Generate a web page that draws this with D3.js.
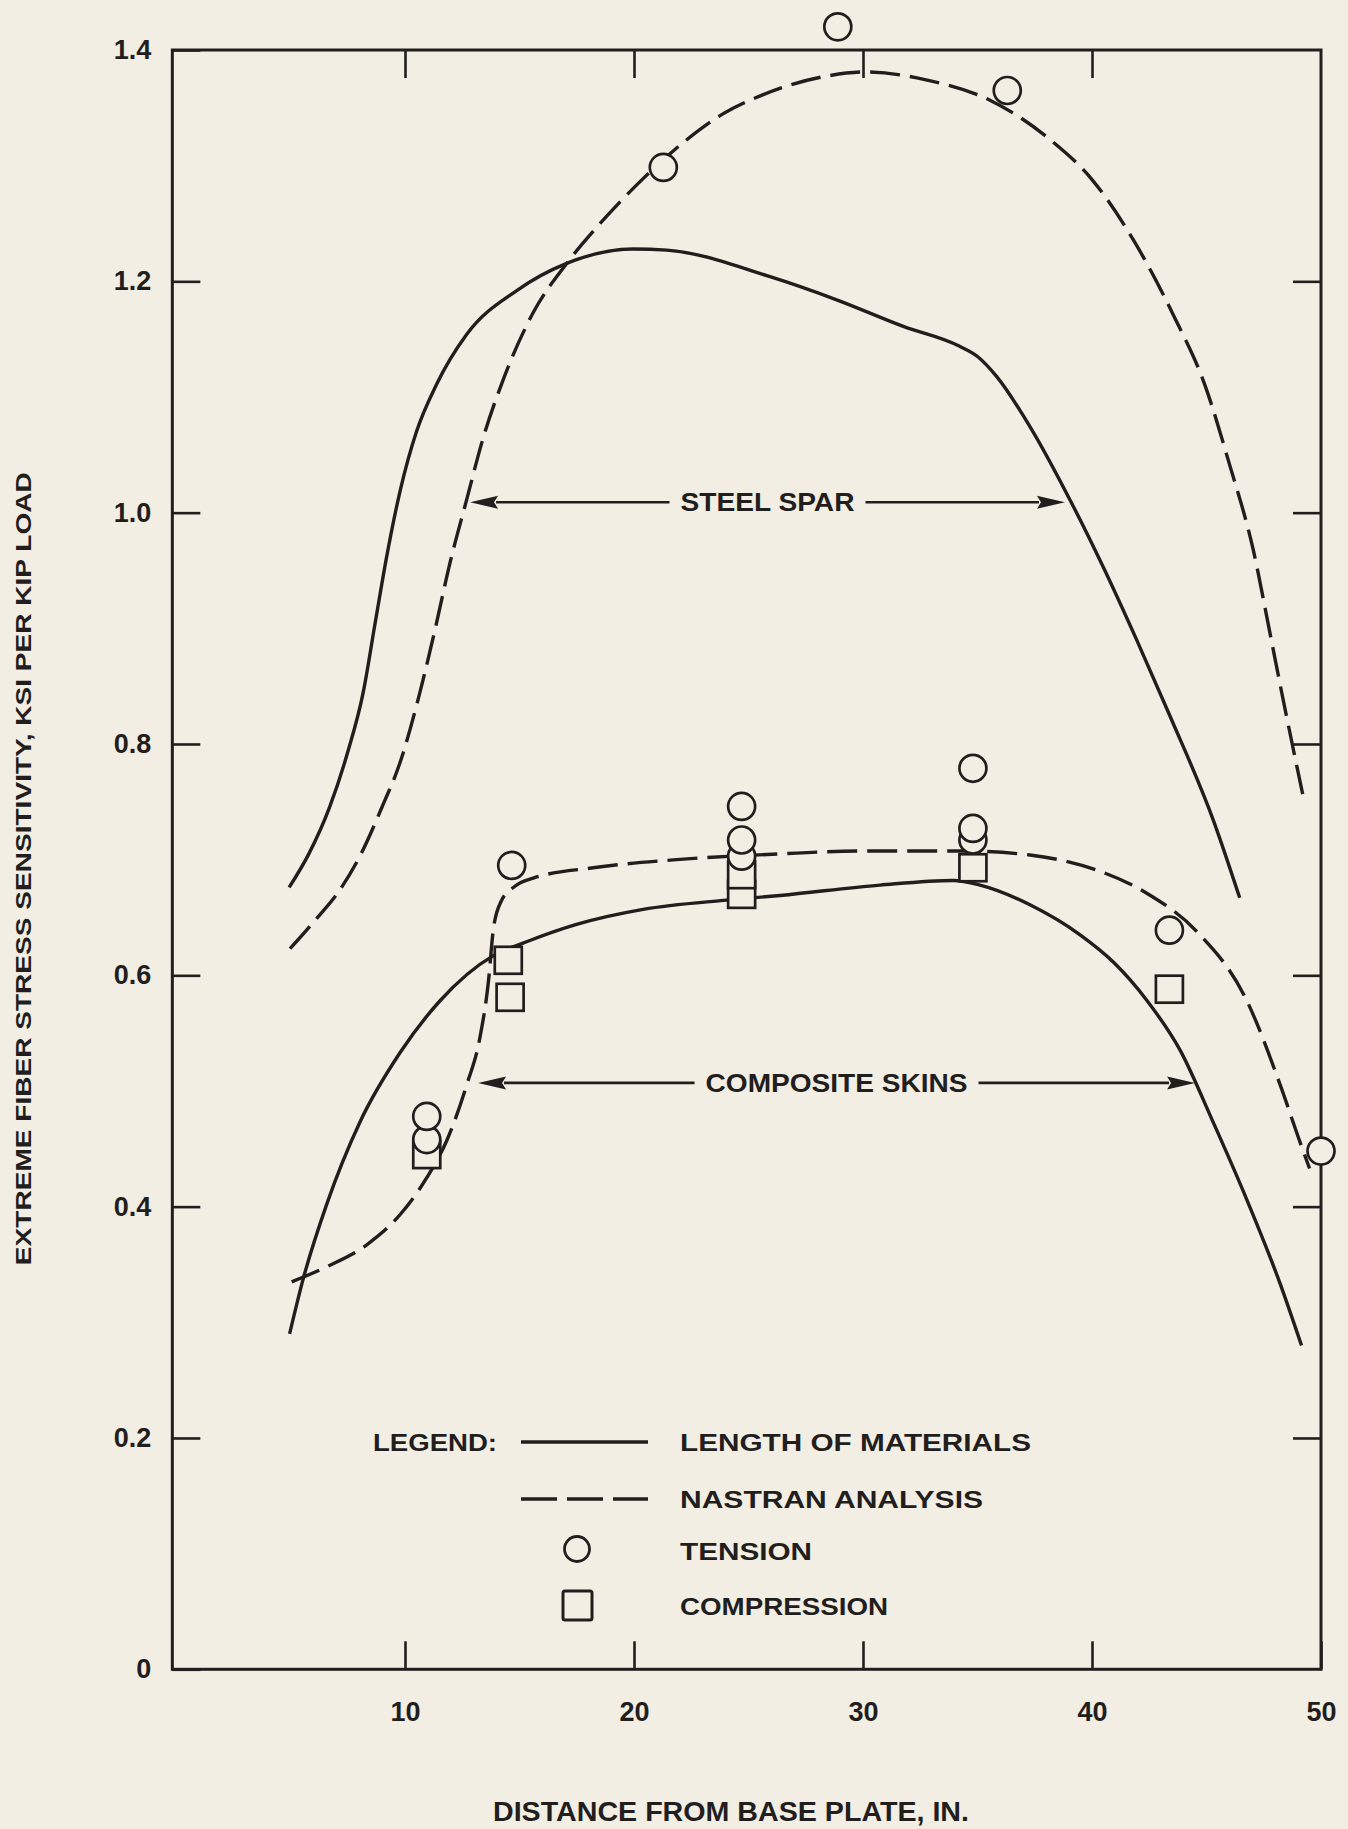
<!DOCTYPE html>
<html><head><meta charset="utf-8">
<script src="https://cdn.jsdelivr.net/npm/d3@7"></script>
<style>
html,body{margin:0;padding:0;background:#f2eee3;}
svg{display:block;}
</style></head><body>
<script>
// ================= DATA =================
const xTicks = [10, 20, 30, 40, 50];
const yTicks = [0, 0.2, 0.4, 0.6, 0.8, 1.0, 1.2, 1.4];
const xTitle = "DISTANCE FROM BASE PLATE, IN.";
const yTitle = "EXTREME FIBER STRESS SENSITIVITY, KSI PER KIP LOAD";

// Steel spar – length of materials (solid)
const steelLengthOfMaterials = [
  [4.94,0.676],[5.8,0.705],[6.7,0.745],[7.5,0.793],[8.18,0.845],[8.7,0.905],[9.2,0.962],
  [9.8,1.02],[10.5,1.07],[11.38,1.111],[12.69,1.154],[14.88,1.192],[17.06,1.2155],[19.97,1.228],
  [21.43,1.227],[25.94,1.204],[28.85,1.184],[31.76,1.161],[34.2,1.144],[35.0,1.135],[35.84,1.1176],
  [37.29,1.0744],[39.04,1.011],[40.49,0.953],[41.95,0.890],[43.41,0.824],[45.3,0.734],[46.45,0.667]
];
// Steel spar – NASTRAN analysis (dashed)
const steelNastran = [
  [4.98,0.623],[6.14,0.649],[7.16,0.674],[8.03,0.703],[9.05,0.748],[9.75,0.782],[10.5,0.833],
  [11.3,0.898],[11.97,0.957],[12.69,1.011],[13.42,1.065],[14.29,1.115],[15.6,1.173],
  [17.06,1.2155],[18.52,1.25],[20.41,1.289],[22.15,1.32],[23.9,1.345],[25.59,1.361],
  [28.3,1.377],[30.1,1.381],[32.8,1.374],[35.5,1.357],[38.2,1.322],[40.0,1.288],
  [41.8,1.236],[43.6,1.169],[44.9,1.112],[46.03,1.040],[47.04,0.968],[47.77,0.896],
  [48.35,0.838],[49.24,0.753]
];
// Composite skins – length of materials (solid)
const compositeLengthOfMaterials = [
  [4.96,0.290],[5.56,0.338],[6.58,0.402],[8.03,0.473],[9.78,0.533],[11.53,0.578],[13.86,0.617],
  [15.31,0.629],[17.49,0.644],[20.4,0.657],[24.05,0.665],[26.38,0.669],[30.74,0.678],
  [33.94,0.682],[35.11,0.678],[37.29,0.661],[39.48,0.635],[40.93,0.6115],[42.39,0.5785],
  [43.84,0.5355],[45.30,0.4726],[46.75,0.4065],[48.21,0.3337],[49.15,0.28]
];
// Composite skins – NASTRAN analysis (dashed)
const compositeNastran = [
  [5.05,0.335],[6.58,0.348],[8.33,0.367],[9.78,0.393],[10.95,0.425],[11.82,0.457],[12.69,0.505],
  [13.27,0.546],[13.64,0.594],[13.86,0.640],[14.2,0.664],[14.8,0.677],[15.6,0.684],[18.22,0.693],
  [21.86,0.700],[26.38,0.705],[30.0,0.7075],[34.4,0.7075],[37.29,0.704],[40.2,0.691],
  [42.39,0.671],[44.57,0.638],[46.75,0.5785],[48.21,0.5057],[49.08,0.456],[49.5,0.433]
];
// Test points
const tensionPoints = [
  [21.28,1.2985],[28.9,1.420],[36.3,1.365],
  [10.95,0.478],[10.95,0.458],[14.66,0.695],
  [24.7,0.746],[24.7,0.717],[24.7,0.703],
  [34.8,0.779],[34.8,0.727],[34.8,0.717],
  [43.38,0.639],[50.0,0.448]
];
const compressionPoints = [
  [10.95,0.445],[14.51,0.613],[14.59,0.581],
  [24.7,0.687],[24.7,0.670],[34.8,0.693],[43.38,0.588]
];
// Range annotations
const rangeLabels = ["STEEL SPAR", "COMPOSITE SKINS"];
const rangeLevels = [1.009, 0.507];
const rangeStart = [12.84, 13.19];
const rangeEnd = [38.82, 44.5];
// Legend
const legendTitle = "LEGEND:";
const legendLabels = ["LENGTH OF MATERIALS", "NASTRAN ANALYSIS", "TENSION", "COMPRESSION"];
const legendKinds = ["solid", "dashed", "circle", "square"];

// ================= LAYOUT =================
const W = 1348, H = 1829;
const INK = "#221e1e", BG = "#f2eee3";
const FONT = "'Liberation Sans', Arial, Helvetica, sans-serif";
const DASH = "30,10";

const x = d3.scaleLinear().domain([0, 50]).range([176, 1321]);
const y = d3.scaleLinear().domain([0, 1.4]).range([1669.3, 50]);
const xLeft = x(-0.16), xRight = x(50), yTop = y(1.4), yBot = y(0);

const svg = d3.select("body").append("svg").attr("width", W).attr("height", H)
  .style("font-family", FONT);
svg.append("rect").attr("width", W).attr("height", H).attr("fill", BG);

// frame
svg.append("rect").attr("x", xLeft).attr("y", yTop)
  .attr("width", xRight - xLeft).attr("height", yBot - yTop)
  .attr("fill", "none").attr("stroke", INK).attr("stroke-width", 3);

function styleAxis(g) {
  g.select(".domain").remove();
  g.selectAll(".tick line").attr("stroke", INK).attr("stroke-width", 2.6);
  g.selectAll(".tick text").attr("fill", INK).style("font-family", FONT)
    .style("font-size", "27px").style("font-weight", "bold");
}

// bottom axis (labels + inward ticks)
svg.append("g").attr("transform", `translate(0,${yBot})`)
  .call(d3.axisBottom(x).tickValues(xTicks).tickSizeInner(-28).tickSizeOuter(0).tickPadding(33)
    .tickFormat(d3.format("d")))
  .call(styleAxis);
// top axis (ticks only)
svg.append("g").attr("transform", `translate(0,${yTop})`)
  .call(d3.axisTop(x).tickValues(xTicks.filter(v => v < 50)).tickSizeInner(-28).tickSizeOuter(0).tickFormat(""))
  .call(styleAxis);
// left axis
svg.append("g").attr("transform", `translate(${xLeft},0)`)
  .call(d3.axisLeft(y).tickValues(yTicks).tickSizeInner(-28).tickSizeOuter(0).tickPadding(21)
    .tickFormat(d => d === 0 ? "0" : d3.format(".1f")(d)))
  .call(styleAxis);
// right axis
svg.append("g").attr("transform", `translate(${xRight},0)`)
  .call(d3.axisRight(y).tickValues(yTicks.filter(v => v > 0 && v < 1.4)).tickSizeInner(-28).tickSizeOuter(0).tickFormat(""))
  .call(styleAxis);

// axis titles
svg.append("text").attr("x", 731).attr("y", 1821)
  .attr("text-anchor", "middle").attr("fill", INK)
  .style("font-size", "27px").style("font-weight", "bold")
  .attr("textLength", 476).attr("lengthAdjust", "spacingAndGlyphs")
  .text(xTitle);
svg.append("text").attr("transform", `translate(23,${(yTop + yBot) / 2 + 9}) rotate(-90)`)
  .attr("text-anchor", "middle").attr("dominant-baseline", "central").attr("fill", INK)
  .style("font-size", "22px").style("font-weight", "bold")
  .attr("textLength", 793).attr("lengthAdjust", "spacingAndGlyphs")
  .text(yTitle);

// curves
const line = d3.line().x(d => x(d[0])).y(d => y(d[1])).curve(d3.curveMonotoneX);
const curves = [
  [steelLengthOfMaterials, null],
  [steelNastran, DASH],
  [compositeLengthOfMaterials, null],
  [compositeNastran, DASH]
];
svg.append("g").selectAll("path").data(curves).join("path")
  .attr("d", d => line(d[0])).attr("fill", "none").attr("stroke", INK)
  .attr("stroke-width", 3.4).attr("stroke-dasharray", d => d[1]);

// range annotations with arrows
const textW = [174, 262];
rangeLabels.forEach((lab, i) => {
  const yy = y(rangeLevels[i]);
  const x0 = x(rangeStart[i]), x1 = x(rangeEnd[i]);
  const cx = (x0 + x1) / 2;
  const g = svg.append("g");
  g.append("text").attr("x", cx).attr("y", yy + 9).attr("text-anchor", "middle")
    .attr("fill", INK).style("font-size", "25px").style("font-weight", "bold")
    .attr("textLength", textW[i]).attr("lengthAdjust", "spacingAndGlyphs").text(lab);
  const aL = 28, aH = 6.5;
  g.append("line").attr("x1", x0 + aL - 2).attr("x2", cx - textW[i] / 2 - 11)
    .attr("y1", yy).attr("y2", yy).attr("stroke", INK).attr("stroke-width", 2.6);
  g.append("line").attr("x1", cx + textW[i] / 2 + 11).attr("x2", x1 - aL + 2)
    .attr("y1", yy).attr("y2", yy).attr("stroke", INK).attr("stroke-width", 2.6);
  g.append("path").attr("d", `M${x0},${yy}L${x0 + aL},${yy - aH}L${x0 + aL - 4},${yy}L${x0 + aL},${yy + aH}Z`).attr("fill", INK);
  g.append("path").attr("d", `M${x1},${yy}L${x1 - aL},${yy - aH}L${x1 - aL + 4},${yy}L${x1 - aL},${yy + aH}Z`).attr("fill", INK);
});

// markers (lower values first so upper ones overlay)
const markers = tensionPoints.map(p => ({p, k: "c"}))
  .concat(compressionPoints.map(p => ({p, k: "s"})))
  .sort((a, b) => a.p[1] - b.p[1]);
const mg = svg.append("g");
markers.forEach(m => {
  const cx = x(m.p[0]), cy = y(m.p[1]);
  if (m.k === "c") {
    mg.append("circle").attr("cx", cx).attr("cy", cy).attr("r", 13.5)
      .attr("fill", BG).attr("stroke", INK).attr("stroke-width", 2.7);
  } else {
    mg.append("rect").attr("x", cx - 13.5).attr("y", cy - 13.5).attr("width", 27).attr("height", 27)
      .attr("fill", BG).attr("stroke", INK).attr("stroke-width", 2.7);
  }
});

// legend
const lg = svg.append("g");
const rowY = [1442, 1499, 1551, 1606];
const labelW = [351, 303, 132, 208];
lg.append("text").attr("x", 373).attr("y", rowY[0] + 9).attr("fill", INK)
  .style("font-size", "24px").style("font-weight", "bold")
  .attr("textLength", 124).attr("lengthAdjust", "spacingAndGlyphs").text(legendTitle);
legendLabels.forEach((lab, i) => {
  const ry = rowY[i];
  const k = legendKinds[i];
  if (k === "solid" || k === "dashed") {
    lg.append("line").attr("x1", 521).attr("x2", 648).attr("y1", ry).attr("y2", ry)
      .attr("stroke", INK).attr("stroke-width", 3.4)
      .attr("stroke-dasharray", k === "dashed" ? "36,10" : null);
  } else if (k === "circle") {
    lg.append("circle").attr("cx", 577).attr("cy", ry - 2).attr("r", 12.5)
      .attr("fill", "none").attr("stroke", INK).attr("stroke-width", 2.8);
  } else {
    lg.append("rect").attr("x", 563).attr("y", ry - 15).attr("width", 29).attr("height", 29)
      .attr("fill", "none").attr("stroke", INK).attr("stroke-width", 3).attr("rx", 2);
  }
  lg.append("text").attr("x", 680).attr("y", ry + 9).attr("fill", INK)
    .style("font-size", "24px").style("font-weight", "bold")
    .attr("textLength", labelW[i]).attr("lengthAdjust", "spacingAndGlyphs").text(lab);
});
</script>
</body></html>
